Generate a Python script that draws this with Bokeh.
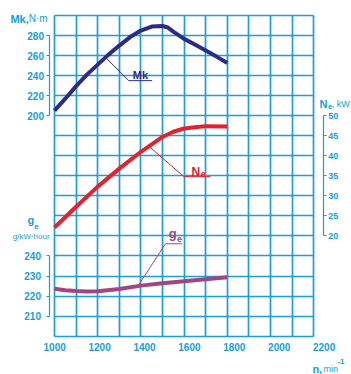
import numpy as np
from bokeh.plotting import figure
from bokeh.models import Range1d, LinearAxis, FixedTicker, Grid, Label
from bokeh.embed import file_html
from bokeh.resources import INLINE

# Engine speed n, min^-1, and the three characteristics read at those speeds
mk_speed = [1000, 1050, 1100, 1150, 1200, 1250, 1300, 1350, 1400, 1450, 1500, 1525, 1550, 1600, 1650, 1700, 1750, 1800]
mk_torque = [205, 217, 229.5, 241, 251, 261, 270, 278.5, 285, 289, 289.5, 288, 284, 276.7, 271, 265, 259, 252.7]  # N·m

ne_speed = [1000, 1100, 1200, 1300, 1400, 1500, 1550, 1600, 1650, 1700, 1800]
ne_power = [22.1, 27.3, 32.3, 36.8, 41.0, 44.7, 46.0, 46.8, 47.1, 47.4, 47.3]  # kW

ge_speed = [1000, 1050, 1100, 1150, 1200, 1300, 1400, 1500, 1600, 1700, 1800]
ge_fuel = [223.6, 222.9, 222.5, 222.3, 222.4, 223.5, 225.2, 226.4, 227.4, 228.4, 229.4]  # g/kW·hour

x_ticks = list(range(1000, 2201, 200))
mk_ticks = [200, 220, 240, 260, 280]
ne_ticks = [20, 25, 30, 35, 40, 45, 50]
ge_ticks = [210, 220, 230, 240]

GRID = "#1f9dda"
TEXT = "#179ee0"
NAVY = "#2c2c88"
RED = "#e5222b"
PURPLE = "#a3467f"
FONT = "Liberation Sans"

# The frame fills the whole canvas; the grid occupies n = 1000..2200 and
# Mk = -20..300, and the scales on the sides are axes pinned at fixed locations.
p = figure(width=351, height=374, output_backend="svg", toolbar_location=None, tools="",
           x_range=Range1d(750, 2375), y_range=Range1d(-58.3, 315),
           x_axis_location=None, y_axis_location=None, min_border=0)
p.outline_line_color = None
p.background_fill_color = "white"
p.border_fill_color = "white"
p.center = [r for r in p.center if not isinstance(r, Grid)]
# power and fuel scales share the grid rows with torque: Ne = Mk / 4, ge = 210 + Mk / 2
p.extra_y_ranges = {"ne": Range1d(-58.3 / 4, 315 / 4), "ge": Range1d(210 - 58.3 / 2, 210 + 315 / 2)}
p.extra_x_ranges = {"lab": Range1d(758.6, 2322)}

# square grid: 100 min^-1 by 20 N·m
xgrid = Grid(dimension=0, ticker=FixedTicker(ticks=list(range(1000, 2201, 100))),
             grid_line_color=GRID, grid_line_width=1.7, cross_bounds=(-20, 300))
ygrid = Grid(dimension=1, ticker=FixedTicker(ticks=list(range(-20, 301, 20))),
             grid_line_color=GRID, grid_line_width=1.7, cross_bounds=(1000, 2200))
p.add_layout(xgrid)
p.add_layout(ygrid)


def style_axis(ax, size="10px", standoff=3):
    ax.axis_line_color = TEXT
    ax.axis_line_width = 1.2
    ax.major_tick_line_color = TEXT
    ax.major_tick_line_width = 1.2
    ax.major_tick_out = 3
    ax.major_tick_in = 0
    ax.minor_tick_line_color = None
    ax.major_label_standoff = standoff
    ax.major_label_text_color = TEXT
    ax.major_label_text_font = FONT
    ax.major_label_text_font_style = "bold"
    ax.major_label_text_font_size = size


mk_axis = LinearAxis(ticker=FixedTicker(ticks=mk_ticks), bounds=(200, 280), fixed_location=979)
style_axis(mk_axis)
ge_axis = LinearAxis(y_range_name="ge", ticker=FixedTicker(ticks=ge_ticks), bounds=(210, 240), fixed_location=979)
style_axis(ge_axis, standoff=6)
ne_axis = LinearAxis(y_range_name="ne", ticker=FixedTicker(ticks=ne_ticks), bounds=(20, 50), fixed_location=2244)
style_axis(ne_axis, size="9px", standoff=2)
x_axis = LinearAxis(x_range_name="lab", ticker=FixedTicker(ticks=x_ticks), fixed_location=-20)
style_axis(x_axis)
x_axis.axis_line_color = None
x_axis.major_tick_line_color = None
x_axis.major_tick_out = 0
x_axis.major_label_standoff = 7

p.add_layout(mk_axis, "left")
p.add_layout(ge_axis, "left")
p.add_layout(ne_axis, "right")
p.add_layout(x_axis, "below")

# characteristic curves
p.line(mk_speed, mk_torque, line_color=NAVY, line_width=4)
p.line(ne_speed, ne_power, line_color=RED, line_width=4, y_range_name="ne")
p.line(ge_speed, ge_fuel, line_color=PURPLE, line_width=4, y_range_name="ge")


# leader lines from each curve to its name
def leader(speed, vals, at, elbow, end_x, color, rng="default"):
    y0 = float(np.interp(at, speed, vals))
    p.line([at, elbow[0], end_x], [y0, elbow[1], elbow[1]], line_color=color, line_width=1,
           y_range_name=rng)


leader(mk_speed, mk_torque, 1236, (1344, 235), 1452, NAVY)
leader(ne_speed, ne_power, 1437, (1599, 34.8), 1722, RED, "ne")
leader(ge_speed, ge_fuel, 1386, (1514, 246.1), 1591, PURPLE, "ge")


def label(x, y, text, color, size, bold=True, rng="default", align="left"):
    p.add_layout(Label(x=x, y=y, text=text, y_range_name=rng, text_color=color,
                       text_font=FONT, text_font_size=size,
                       text_font_style="bold" if bold else "normal",
                       text_align=align, text_baseline="alphabetic"))


# curve names
label(1398, 241, "Mk", NAVY, "11px", align="center")
label(1634, 35.9, "N", RED, "12px", rng="ne")
label(1677, 35.4, "e", RED, "9px", rng="ne")
label(1529, 251.3, "g", PURPLE, "13px", rng="ge")
label(1567, 248.3, "e", PURPLE, "9px", rng="ge")

# axis titles
label(796, 296.7, "Mk,", TEXT, "11px")
label(881, 296.7, "N·m", TEXT, "10px", bold=False)
label(875, 257.8, "g", TEXT, "11px", rng="ge")
label(906, 254.8, "e", TEXT, "8px", rng="ge")
label(892, 249.8, "g/kW·hour", TEXT, "8px", bold=False, rng="ge", align="center")
label(2227, 52.8, "N", TEXT, "11px", rng="ne")
label(2266, 52.3, "e", TEXT, "8px", rng="ne")
label(2283, 52.8, ", kW", TEXT, "9px", bold=False, rng="ne")
label(2194, -52.4, "n,", TEXT, "11px")
label(2245, -52.4, "min", TEXT, "9px", bold=False)
label(2310, -45.7, "-1", TEXT, "8px")

open("out.html", "w").write(file_html(p, INLINE))
